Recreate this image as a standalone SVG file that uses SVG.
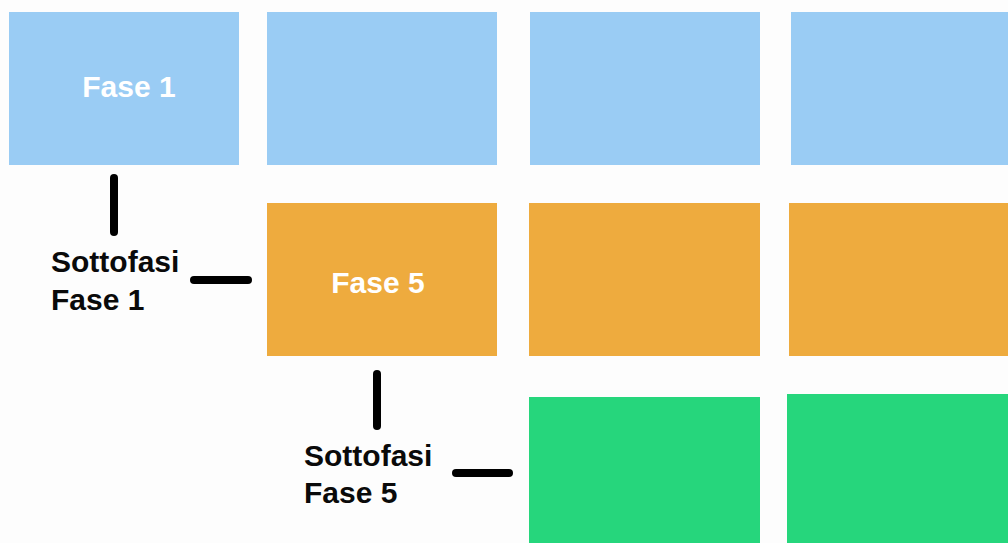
<svg xmlns="http://www.w3.org/2000/svg" width="1008" height="543" viewBox="0 0 1008 543">
<style>
.blue{fill:#9ACCF4}
.orange{fill:#EEAB3E}
.green{fill:#26D67C}
.lbl{font-family:"Liberation Sans",Arial,sans-serif;font-weight:bold;font-size:30px;fill:#ffffff;text-anchor:middle}
.note{font-family:"Liberation Sans",Arial,sans-serif;font-weight:bold;font-size:30px;fill:#0a0a0a}
.conn{stroke:#000;stroke-width:8;stroke-linecap:round;fill:none}
</style>
<rect width="1008" height="543" fill="#fdfdfd"/>
<g id="fase1"><rect class="blue" x="9" y="12" width="230" height="153"/><text class="lbl" x="129" y="97">Fase 1</text></g>
<g id="fase2"><rect class="blue" x="267" y="12" width="230" height="153"/></g>
<g id="fase3"><rect class="blue" x="530" y="12" width="230" height="153"/></g>
<g id="fase4"><rect class="blue" x="791" y="12" width="217" height="153"/></g>
<g id="fase5"><rect class="orange" x="267" y="203" width="230" height="153"/><text class="lbl" x="378" y="293">Fase 5</text></g>
<g id="orange2"><rect class="orange" x="529" y="203" width="231" height="153"/></g>
<g id="orange3"><rect class="orange" x="789" y="203" width="219" height="153"/></g>
<g id="green1"><rect class="green" x="529" y="397" width="231" height="146"/></g>
<g id="green2"><rect class="green" x="787" y="394" width="221" height="149"/></g>
<g id="sottofasi1"><text class="note" x="51" y="272">Sottofasi</text><text class="note" x="51" y="310">Fase 1</text></g>
<g id="sottofasi5"><text class="note" x="304" y="466">Sottofasi</text><text class="note" x="304" y="503">Fase 5</text></g>
<g id="connectors">
<line class="conn" x1="114" y1="178" x2="114" y2="232"/>
<line class="conn" x1="194" y1="280" x2="248" y2="280"/>
<line class="conn" x1="377" y1="374" x2="377" y2="426"/>
<line class="conn" x1="456" y1="473" x2="509" y2="473"/>
</g>
</svg>
